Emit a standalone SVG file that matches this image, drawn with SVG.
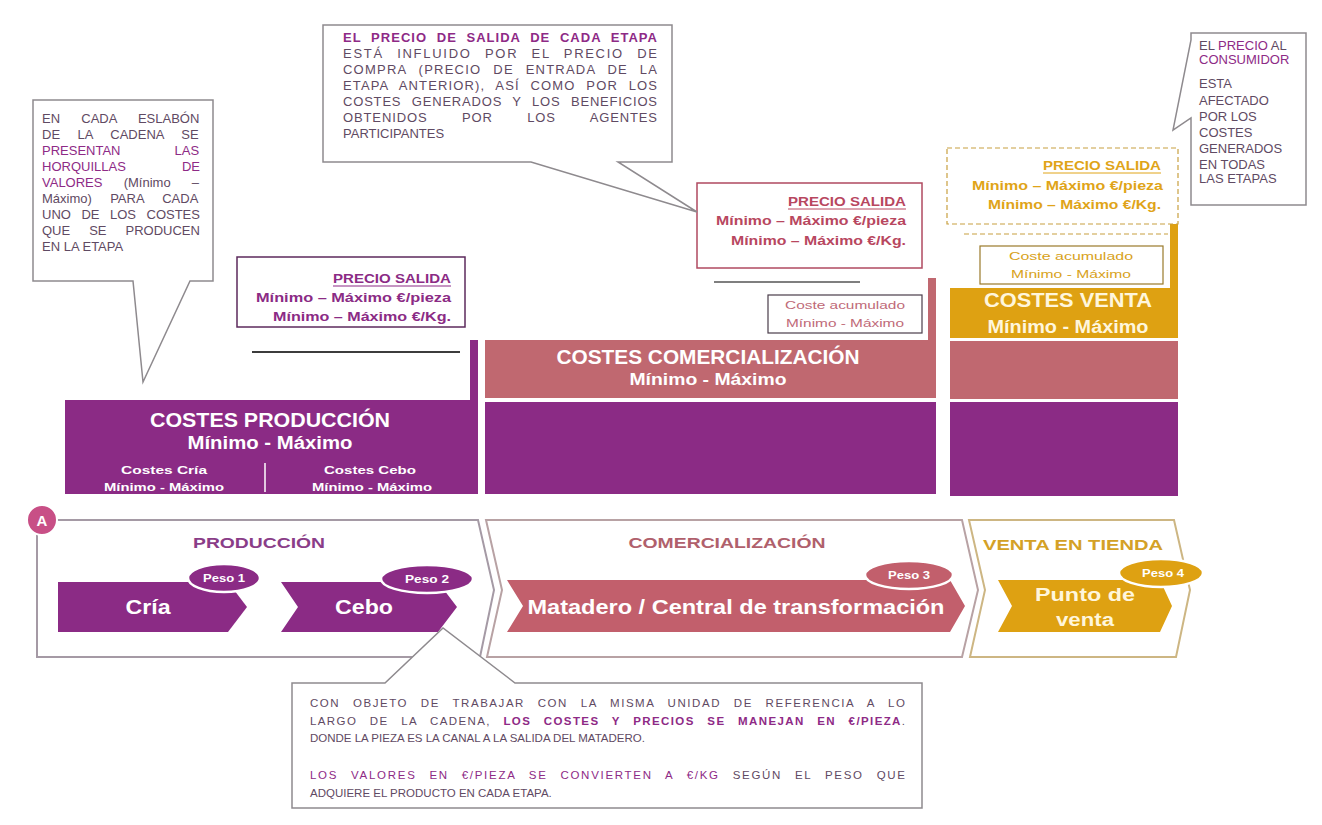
<svg xmlns="http://www.w3.org/2000/svg" width="1322" height="825" viewBox="0 0 1322 825">
<defs>
<style>
text{font-family:"Liberation Sans",Arial,Helvetica,sans-serif}
.box{fill:#fff;stroke:#8e8a8e;stroke-width:1.5}
.f11{font-size:11.5px}
.f13{font-size:13px}
.g{fill:#5f4a63}
.p{fill:#8e2a86}
.b{font-weight:bold}
.pur{fill:#8b2b85}
.ros{fill:#c06870}
.gld{fill:#dea112}
.bt{fill:#fff;font-weight:bold;text-anchor:middle}
.bg{fill:#fff6dc;font-weight:bold;text-anchor:middle}
.c{text-anchor:middle}
.e{text-anchor:end}
.pp{font-size:12px;font-weight:bold;fill:#8b2b85}
.pr{font-size:12px;font-weight:bold;fill:#b8475f}
.pg{font-size:12px;font-weight:bold;fill:#e0a418}
.peso{font-size:11px;font-weight:bold;fill:#fff;text-anchor:middle}
.stg{fill:#fff;stroke-width:2}
.lbl{font-size:14px;font-weight:bold;text-anchor:middle}
</style>
</defs>
<rect width="1322" height="825" fill="#fff"/>

<!-- Stage containers -->
<g id="stage-produccion">
<path class="stg" stroke="#a59aa5" d="M37,520H478L494,590L480,657H37Z"/>
<text class="lbl" x="259" y="548" fill="#8a3d88" textLength="132" lengthAdjust="spacingAndGlyphs">PRODUCCIÓN</text>
</g>
<g id="stage-comercializacion">
<path class="stg" stroke="#b8a2a4" d="M486,520L502,590L487,657H962L978,590L962,520Z"/>
<text class="lbl" x="727" y="548" fill="#b0606c" textLength="197" lengthAdjust="spacingAndGlyphs">COMERCIALIZACIÓN</text>
</g>
<g id="stage-venta">
<path class="stg" stroke="#cdb683" d="M969,520L985,590L970,657H1176L1190,590L1174,520Z"/>
<text class="lbl" x="1073" y="550" fill="#d4a126" textLength="180" lengthAdjust="spacingAndGlyphs">VENTA EN TIENDA</text>
</g>
<g id="marker-a">
<circle cx="42" cy="520" r="15" fill="#c84f86" stroke="#fff" stroke-width="2"/>
<text x="42" y="526" class="bt" font-size="15">A</text>
</g>

<!-- Process arrows -->
<g id="cria">
<polygon class="pur" points="58,582 228,582 247,607 228,632 58,632"/>
<text class="bt" x="148" y="614" font-size="20" textLength="45" lengthAdjust="spacingAndGlyphs">Cría</text>
<ellipse cx="224" cy="578" rx="36" ry="14" class="pur" stroke="#fff" stroke-width="2.5"/>
<text class="peso" x="224" y="582" textLength="42" lengthAdjust="spacingAndGlyphs">Peso 1</text>
</g>
<g id="cebo">
<polygon class="pur" points="281,582 438,582 457,607 438,632 281,632 298,607"/>
<text class="bt" x="364" y="614" font-size="20" textLength="58" lengthAdjust="spacingAndGlyphs">Cebo</text>
<ellipse cx="427" cy="579" rx="46" ry="14" class="pur" stroke="#fff" stroke-width="2.5"/>
<text class="peso" x="427" y="583" textLength="44" lengthAdjust="spacingAndGlyphs">Peso 2</text>
</g>
<g id="matadero">
<polygon fill="#c25f6c" points="507,580 950,580 965,606 950,632 507,632 523,606"/>
<text class="bt" x="736" y="614" font-size="20" textLength="417" lengthAdjust="spacingAndGlyphs">Matadero / Central de transformación</text>
<ellipse cx="909" cy="575" rx="44" ry="14" fill="#c25f6c" stroke="#fff" stroke-width="2.5"/>
<text class="peso" x="909" y="579" textLength="42" lengthAdjust="spacingAndGlyphs">Peso 3</text>
</g>
<g id="punto-venta">
<polygon class="gld" points="998,580 1160,580 1172,606 1160,632 998,632 1012,606"/>
<text class="bg" x="1085" y="601" font-size="18" textLength="100" lengthAdjust="spacingAndGlyphs">Punto de</text>
<text class="bg" x="1085" y="626" font-size="18" textLength="58" lengthAdjust="spacingAndGlyphs">venta</text>
<ellipse cx="1161" cy="573" rx="42" ry="14" class="gld" stroke="#fff" stroke-width="2.5"/>
<text class="peso" x="1163" y="577" textLength="42" lengthAdjust="spacingAndGlyphs">Peso 4</text>
</g>

<!-- Production cost stack -->
<g id="costes-produccion">
<rect class="pur" x="470" y="340" width="8" height="60"/>
<rect class="pur" x="65" y="400" width="413" height="94"/>
<text class="bt" x="270" y="427" font-size="20" textLength="240" lengthAdjust="spacingAndGlyphs">COSTES PRODUCCIÓN</text>
<text class="bt" x="270" y="449" font-size="18" textLength="165" lengthAdjust="spacingAndGlyphs">Mínimo - Máximo</text>
<text class="bt" x="164" y="474" font-size="11" textLength="86" lengthAdjust="spacingAndGlyphs">Costes Cría</text>
<text class="bt" x="164" y="491" font-size="11" textLength="120" lengthAdjust="spacingAndGlyphs">Mínimo - Máximo</text>
<line x1="265" y1="463" x2="265" y2="492" stroke="#fff" stroke-width="1.5"/>
<text class="bt" x="370" y="474" font-size="11" textLength="92" lengthAdjust="spacingAndGlyphs">Costes Cebo</text>
<text class="bt" x="372" y="491" font-size="11" textLength="120" lengthAdjust="spacingAndGlyphs">Mínimo - Máximo</text>
</g>
<g id="precio-produccion">
<rect x="237" y="257" width="228" height="70" fill="#fff" stroke="#5c2a5c" stroke-width="1.5"/>
<text class="pp e" x="451" y="283" textLength="118" lengthAdjust="spacingAndGlyphs">PRECIO SALIDA</text>
<line x1="333" y1="286" x2="451" y2="286" stroke="#8b2b85" stroke-width="1"/>
<text class="pp e" x="451" y="302" textLength="195" lengthAdjust="spacingAndGlyphs">Mínimo – Máximo €/pieza</text>
<text class="pp e" x="451" y="321" textLength="178" lengthAdjust="spacingAndGlyphs">Mínimo – Máximo €/Kg.</text>
</g>

<!-- Commercial cost stack -->
<g id="costes-comercializacion">
<rect class="ros" x="928" y="278" width="8" height="62"/>
<rect class="ros" x="485" y="340" width="451" height="58"/>
<rect class="pur" x="485" y="402" width="451" height="92"/>
<text class="bt" x="708" y="364" font-size="20" textLength="303" lengthAdjust="spacingAndGlyphs">COSTES COMERCIALIZACIÓN</text>
<text class="bt" x="708" y="385" font-size="17" textLength="157" lengthAdjust="spacingAndGlyphs">Mínimo - Máximo</text>
</g>
<g id="coste-acumulado-comercializacion">
<rect x="768" y="295" width="154" height="38" fill="#fff" stroke="#4a3d4a" stroke-width="1.2"/>
<text class="c" x="845" y="309" font-size="11.5" fill="#c06a78" textLength="120" lengthAdjust="spacingAndGlyphs">Coste acumulado</text>
<text class="c" x="845" y="327" font-size="11.5" fill="#c06a78" textLength="118" lengthAdjust="spacingAndGlyphs">Mínimo - Máximo</text>
</g>
<g id="precio-comercializacion">
<rect x="697" y="183" width="225" height="85" fill="#fff" stroke="#b04a60" stroke-width="1.5"/>
<text class="pr e" x="906" y="206" textLength="118" lengthAdjust="spacingAndGlyphs">PRECIO SALIDA</text>
<line x1="788" y1="209" x2="906" y2="209" stroke="#b8475f" stroke-width="1"/>
<text class="pr e" x="906" y="225" textLength="190" lengthAdjust="spacingAndGlyphs">Mínimo – Máximo €/pieza</text>
<text class="pr e" x="906" y="245" textLength="175" lengthAdjust="spacingAndGlyphs">Mínimo – Máximo €/Kg.</text>
</g>

<!-- Sales cost stack -->
<g id="costes-venta">
<rect class="gld" x="1170" y="210" width="8" height="78"/>
<rect class="gld" x="950" y="288" width="228" height="50"/>
<rect class="ros" x="950" y="341" width="228" height="58"/>
<rect class="pur" x="950" y="402" width="228" height="94"/>
<text class="bg" x="1068" y="307" font-size="21" textLength="168" lengthAdjust="spacingAndGlyphs">COSTES VENTA</text>
<text class="bg" x="1068" y="333" font-size="18" textLength="161" lengthAdjust="spacingAndGlyphs">Mínimo - Máximo</text>
</g>
<g id="coste-acumulado-venta">
<rect x="980" y="246" width="183" height="38" fill="#fff" stroke="#9a7a2a" stroke-width="1.2"/>
<text class="c" x="1071" y="260" font-size="11.5" fill="#d8a21a" textLength="124" lengthAdjust="spacingAndGlyphs">Coste acumulado</text>
<text class="c" x="1071" y="278" font-size="11.5" fill="#d8a21a" textLength="120" lengthAdjust="spacingAndGlyphs">Mínimo - Máximo</text>
</g>
<g id="precio-venta">
<rect x="947" y="148" width="231" height="76" fill="#fff" stroke="#c8a040" stroke-width="1.2" stroke-dasharray="5,3"/>
<text class="pg e" x="1161" y="170" textLength="118" lengthAdjust="spacingAndGlyphs">PRECIO SALIDA</text>
<line x1="1043" y1="173" x2="1161" y2="173" stroke="#e0a418" stroke-width="1"/>
<text class="pg e" x="1163" y="190" textLength="191" lengthAdjust="spacingAndGlyphs">Mínimo – Máximo €/pieza</text>
<text class="pg e" x="1161" y="209" textLength="173" lengthAdjust="spacingAndGlyphs">Mínimo – Máximo €/Kg.</text>
</g>

<!-- Separator rules -->
<g id="rules">
<line x1="252" y1="352" x2="460" y2="352" stroke="#3c3c3c" stroke-width="2"/>
<line x1="714" y1="282" x2="860" y2="282" stroke="#555" stroke-width="1.5"/>
<line x1="964" y1="234" x2="1168" y2="234" stroke="#c8a040" stroke-width="1.2" stroke-dasharray="5,3"/>
</g>

<!-- Callouts -->
<g id="callout-eslabon">
<path class="box" d="M33,100H213V281H190L143,382L133,281H33Z"/>
<text class="f13 g" x="42" y="123" word-spacing="17.6">EN CADA ESLABÓN</text>
<text class="f13 g" x="42" y="139" word-spacing="13.9">DE LA CADENA SE</text>
<text class="f13 p" x="42" y="155" word-spacing="50.4">PRESENTAN LAS</text>
<text class="f13 p" x="42" y="171" word-spacing="52.5">HORQUILLAS DE</text>
<text class="f13 g" x="42" y="187" word-spacing="17.6"><tspan fill="#8e2a86">VALORES</tspan> (Mínimo –</text>
<text class="f13 g" x="42" y="203" word-spacing="14.7">Máximo) PARA CADA</text>
<text class="f13 g" x="42" y="219" word-spacing="6.9">UNO DE LOS COSTES</text>
<text class="f13 g" x="42" y="235" word-spacing="15.4">QUE SE PRODUCEN</text>
<text class="f13 g" x="42" y="251">EN LA ETAPA</text>
</g>

<g id="callout-precio-salida">
<path class="box" d="M323,25H672V162H618L697,212L531,162H323Z"/>
<text class="f13 p b" x="343" y="42" word-spacing="5" textLength="314" lengthAdjust="spacing">EL PRECIO DE SALIDA DE CADA ETAPA</text>
<text class="f13 g" x="343" y="58" word-spacing="8" textLength="314" lengthAdjust="spacing">ESTÁ INFLUIDO POR EL PRECIO DE</text>
<text class="f13 g" x="343" y="74" word-spacing="7" textLength="314" lengthAdjust="spacing">COMPRA (PRECIO DE ENTRADA DE LA</text>
<text class="f13 g" x="343" y="90" word-spacing="6" textLength="314" lengthAdjust="spacing">ETAPA ANTERIOR), ASÍ COMO POR LOS</text>
<text class="f13 g" x="343" y="106" word-spacing="6" textLength="314" lengthAdjust="spacing">COSTES GENERADOS Y LOS BENEFICIOS</text>
<text class="f13 g" x="343" y="122" word-spacing="30" textLength="314" lengthAdjust="spacing">OBTENIDOS POR LOS AGENTES</text>
<text class="f13 g" x="343" y="138">PARTICIPANTES</text>
</g>

<g id="callout-consumidor">
<path class="box" d="M1191,33H1306V205H1191V118L1173,130L1191,40Z"/>
<text class="f13 g" x="1199" y="50">EL <tspan fill="#8e2a86">PRECIO</tspan> AL</text>
<text class="f13 p" x="1199" y="64">CONSUMIDOR</text>
<text class="f13 g" x="1199" y="88">ESTA</text>
<text class="f13 g" x="1199" y="105">AFECTADO</text>
<text class="f13 g" x="1199" y="121">POR LOS</text>
<text class="f13 g" x="1199" y="137">COSTES</text>
<text class="f13 g" x="1199" y="153">GENERADOS</text>
<text class="f13 g" x="1199" y="169">EN TODAS</text>
<text class="f13 g" x="1199" y="183">LAS ETAPAS</text>
</g>

<g id="callout-unidad">
<path class="box" d="M292,683H385L443,628L515,683H922V808H292Z"/>
<text class="f11 g" x="310" y="707" word-spacing="8" textLength="595" lengthAdjust="spacing">CON OBJETO DE TRABAJAR CON LA MISMA UNIDAD DE REFERENCIA A LO</text>
<text class="f11 g" x="310" y="725" word-spacing="8" textLength="595" lengthAdjust="spacing">LARGO DE LA CADENA, <tspan fill="#8e2a86" font-weight="bold">LOS COSTES Y PRECIOS SE MANEJAN EN €/PIEZA</tspan>.</text>
<text class="f11 g" x="310" y="742">DONDE LA PIEZA ES LA CANAL A LA SALIDA DEL MATADERO.</text>
<text class="f11 g" x="310" y="779" word-spacing="8" textLength="595" lengthAdjust="spacing"><tspan fill="#8e2a86">LOS VALORES EN €/PIEZA SE CONVIERTEN A €/KG</tspan> SEGÚN EL PESO QUE</text>
<text class="f11 g" x="310" y="797">ADQUIERE EL PRODUCTO EN CADA ETAPA.</text>
</g>
</svg>
